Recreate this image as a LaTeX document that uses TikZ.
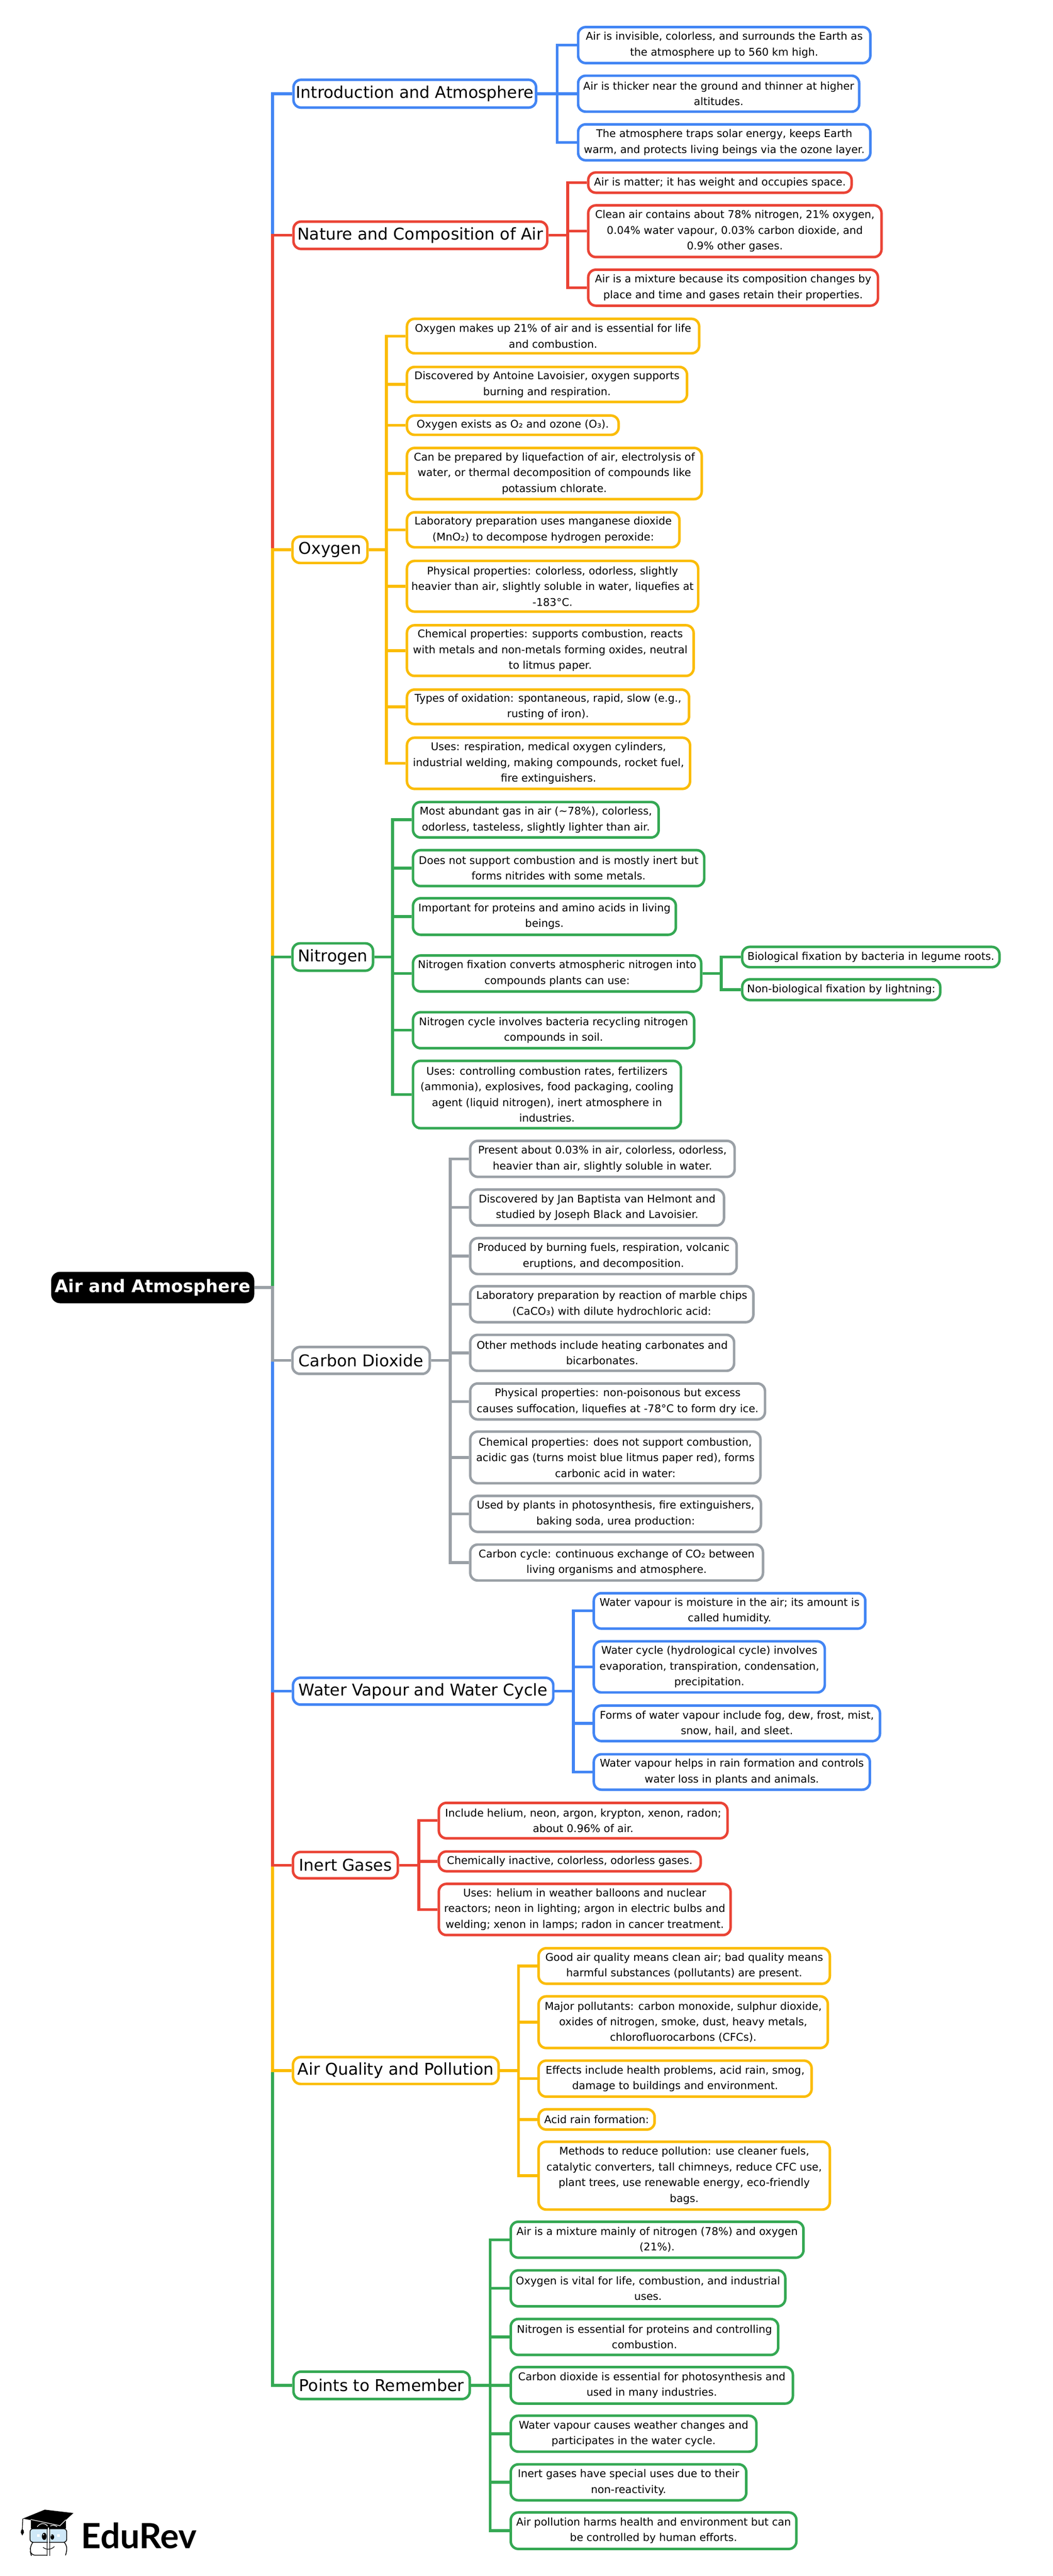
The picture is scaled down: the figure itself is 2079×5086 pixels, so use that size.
\documentclass[tikz,border=0pt]{standalone}
\usepackage{fontspec}
\setmainfont{DejaVu Sans}
\newfontfamily\logofont{Lato}
\definecolor{cblue}{HTML}{4285F4}
\definecolor{cred}{HTML}{EA4335}
\definecolor{cyellow}{HTML}{FBBC04}
\definecolor{cgreen}{HTML}{34A853}
\definecolor{cgray}{HTML}{9AA0A6}
\definecolor{glass}{HTML}{CFE8F8}
\newcommand{\leaffont}{\fontsize{20.9}{31}\selectfont}
\newcommand{\topicfont}{\fontsize{32.1}{38}\selectfont}
\newcommand{\rootfont}{\fontsize{34.3}{40}\selectfont\bfseries}
\tikzset{
  mapbox/.style={rounded corners=15pt,fill=white,align=center,inner sep=0pt,line width=5pt,text=black},
  leafbox/.style={mapbox,font=\leaffont},
  topicbox/.style={mapbox,font=\topicfont},
  rootbox/.style={mapbox,draw=black,fill=black,text=white,font=\rootfont},
  conn/.style={line width=5.5pt}
}
% name, style, colour, left, top, right, bottom, text
\newcommand{\mapnode}[8]{%
  \pgfmathsetmacro\cxx{(#4+#6)/2}\pgfmathsetmacro\cyy{(#5+#7)/2}%
  \pgfmathsetmacro\www{#6-#4-5}\pgfmathsetmacro\hhh{#7-#5-5}%
  \node[#2,draw=#3,minimum width=\www pt,minimum height=\hhh pt] (#1) at (\cxx,\cyy) {#8};}
\newcommand{\leaf}[7]{\mapnode{#1}{leafbox}{#2}{#3}{#4}{#5}{#6}{#7}}
\newcommand{\topic}[7]{\mapnode{#1}{topicbox}{#2}{#3}{#4}{#5}{#6}{#7}}
\newcommand{\link}[4]{\draw[conn,#1] (#2.east) -- ++(#3,0) |- (#4.west);}
\begin{document}
\begin{tikzpicture}[x=1pt,y=-1pt]
\useasboundingbox (0,0) rectangle (2079,5086);
\fill[white] (0,0) rectangle (2079,5086);
% root
\mapnode{root}{rootbox}{black}{101}{2511}{502}{2573}{Air and Atmosphere}
% topics
\topic{intro}{cblue}{577}{155}{1061}{215}{Introduction and Atmosphere}
\topic{nature}{cred}{577}{435}{1083}{494}{Nature and Composition of Air}
\topic{oxy}{cyellow}{575}{1057}{728}{1114}{Oxygen}
\topic{nit}{cgreen}{575}{1860}{739}{1919}{Nitrogen}
\topic{carb}{cgray}{575}{2657}{851}{2715}{Carbon Dioxide}
\topic{water}{cblue}{576}{3310}{1095}{3368}{Water Vapour and Water Cycle}
\topic{inert}{cred}{576}{3654}{788}{3711}{Inert Gases}
\topic{aq}{cyellow}{576}{4059}{987}{4117}{Air Quality and Pollution}
\topic{pts}{cgreen}{577}{4680}{930}{4739}{Points to Remember}
% intro
\leaf{i1}{cblue}{1139}{51}{1721}{127}{Air is invisible, colorless, and surrounds the Earth as\\the atmosphere up to 560 km high.}
\leaf{i2}{cblue}{1139}{147}{1699}{223}{Air is thicker near the ground and thinner at higher\\altitudes.}
\leaf{i3}{cblue}{1139}{243}{1721}{319}{The atmosphere traps solar energy, keeps Earth\\warm, and protects living beings via the ozone layer.}
% nature
\leaf{n1}{cred}{1159}{338}{1684}{383}{Air is matter; it has weight and occupies space.}
\leaf{n2}{cred}{1159}{403}{1743}{510}{Clean air contains about 78\% nitrogen, 21\% oxygen,\\0.04\% water vapour, 0.03\% carbon dioxide, and\\0.9\% other gases.}
\leaf{n3}{cred}{1159}{530}{1736}{606}{Air is a mixture because its composition changes by\\place and time and gases retain their properties.}
% oxygen
\leaf{o1}{cyellow}{801}{627}{1383}{700}{Oxygen makes up 21\% of air and is essential for life\\and combustion.}
\leaf{o2}{cyellow}{801}{722}{1359}{796}{Discovered by Antoine Lavoisier, oxygen supports\\burning and respiration.}
\leaf{o3}{cyellow}{801}{818}{1224}{861}{Oxygen exists as O₂ and ozone (O₃).}
\leaf{o4}{cyellow}{801}{882}{1388}{988}{Can be prepared by liquefaction of air, electrolysis of\\water, or thermal decomposition of compounds like\\potassium chlorate.}
\leaf{o5}{cyellow}{801}{1009}{1344}{1083}{Laboratory preparation uses manganese dioxide\\(MnO₂) to decompose hydrogen peroxide:}
\leaf{o6}{cyellow}{801}{1105}{1381}{1210}{Physical properties: colorless, odorless, slightly\\heavier than air, slightly soluble in water, liquefies at\\-183°C.}
\leaf{o7}{cyellow}{801}{1232}{1372}{1337}{Chemical properties: supports combustion, reacts\\with metals and non-metals forming oxides, neutral\\to litmus paper.}
\leaf{o8}{cyellow}{801}{1359}{1363}{1432}{Types of oxidation: spontaneous, rapid, slow (e.g.,\\rusting of iron).}
\leaf{o9}{cyellow}{801}{1454}{1365}{1560}{Uses: respiration, medical oxygen cylinders,\\industrial welding, making compounds, rocket fuel,\\fire extinguishers.}
% nitrogen
\leaf{t1}{cgreen}{813}{1581}{1303}{1656}{Most abundant gas in air ({\char"7E}78\%), colorless,\\odorless, tasteless, slightly lighter than air.}
\leaf{t2}{cgreen}{813}{1676}{1393}{1752}{Does not support combustion and is mostly inert but\\forms nitrides with some metals.}
\leaf{t3}{cgreen}{813}{1771}{1337}{1848}{Important for proteins and amino acids in living\\beings.}
\leaf{t4}{cgreen}{813}{1884}{1387}{1960}{Nitrogen fixation converts atmospheric nitrogen into\\compounds plants can use:}
\leaf{t5}{cgreen}{813}{1996}{1373}{2072}{Nitrogen cycle involves bacteria recycling nitrogen\\compounds in soil.}
\leaf{t6}{cgreen}{813}{2092}{1347}{2230}{Uses: controlling combustion rates, fertilizers\\(ammonia), explosives, food packaging, cooling\\agent (liquid nitrogen), inert atmosphere in\\industries.}
\leaf{ta}{cgreen}{1463}{1867}{1976}{1912}{Biological fixation by bacteria in legume roots.}
\leaf{tb}{cgreen}{1463}{1931}{1859}{1977}{Non-biological fixation by lightning:}
% carbon dioxide
\leaf{c1}{cgray}{926}{2250}{1453}{2326}{Present about 0.03\% in air, colorless, odorless,\\heavier than air, slightly soluble in water.}
\leaf{c2}{cgray}{926}{2346}{1432}{2422}{Discovered by Jan Baptista van Helmont and\\studied by Joseph Black and Lavoisier.}
\leaf{c3}{cgray}{926}{2442}{1457}{2518}{Produced by burning fuels, respiration, volcanic\\eruptions, and decomposition.}
\leaf{c4}{cgray}{926}{2537}{1490}{2613}{Laboratory preparation by reaction of marble chips\\(CaCO₃) with dilute hydrochloric acid:}
\leaf{c5}{cgray}{926}{2633}{1452}{2709}{Other methods include heating carbonates and\\bicarbonates.}
\leaf{c6}{cgray}{926}{2729}{1513}{2805}{Physical properties: non-poisonous but excess\\causes suffocation, liquefies at -78°C to form dry ice.}
\leaf{c7}{cgray}{926}{2824}{1504}{2931}{Chemical properties: does not support combustion,\\acidic gas (turns moist blue litmus paper red), forms\\carbonic acid in water:}
\leaf{c8}{cgray}{926}{2951}{1505}{3027}{Used by plants in photosynthesis, fire extinguishers,\\baking soda, urea production:}
\leaf{c9}{cgray}{926}{3047}{1509}{3123}{Carbon cycle: continuous exchange of CO₂ between\\living organisms and atmosphere.}
% water
\leaf{w1}{cblue}{1170}{3143}{1711}{3218}{Water vapour is moisture in the air; its amount is\\called humidity.}
\leaf{w2}{cblue}{1170}{3238}{1631}{3344}{Water cycle (hydrological cycle) involves\\evaporation, transpiration, condensation,\\precipitation.}
\leaf{w3}{cblue}{1170}{3365}{1740}{3440}{Forms of water vapour include fog, dew, frost, mist,\\snow, hail, and sleet.}
\leaf{w4}{cblue}{1170}{3461}{1720}{3536}{Water vapour helps in rain formation and controls\\water loss in plants and animals.}
% inert
\leaf{g1}{cred}{864}{3557}{1439}{3632}{Include helium, neon, argon, krypton, xenon, radon;\\about 0.96\% of air.}
\leaf{g2}{cred}{864}{3653}{1386}{3697}{Chemically inactive, colorless, odorless gases.}
\leaf{g3}{cred}{864}{3717}{1445}{3823}{Uses: helium in weather balloons and nuclear\\reactors; neon in lighting; argon in electric bulbs and\\welding; xenon in lamps; radon in cancer treatment.}
% air quality
\leaf{a1}{cyellow}{1061}{3844}{1641}{3919}{Good air quality means clean air; bad quality means\\harmful substances (pollutants) are present.}
\leaf{a2}{cyellow}{1061}{3939}{1637}{4046}{Major pollutants: carbon monoxide, sulphur dioxide,\\oxides of nitrogen, smoke, dust, heavy metals,\\chlorofluorocarbons (CFCs).}
\leaf{a3}{cyellow}{1061}{4066}{1605}{4142}{Effects include health problems, acid rain, smog,\\damage to buildings and environment.}
\leaf{a4}{cyellow}{1061}{4162}{1295}{4207}{Acid rain formation:}
\leaf{a5}{cyellow}{1061}{4226}{1641}{4365}{Methods to reduce pollution: use cleaner fuels,\\catalytic converters, tall chimneys, reduce CFC use,\\plant trees, use renewable energy, eco-friendly\\bags.}
% points
\leaf{p1}{cgreen}{1006}{4384}{1589}{4460}{Air is a mixture mainly of nitrogen (78\%) and oxygen\\(21\%).}
\leaf{p2}{cgreen}{1006}{4480}{1553}{4556}{Oxygen is vital for life, combustion, and industrial\\uses.}
\leaf{p3}{cgreen}{1006}{4576}{1539}{4652}{Nitrogen is essential for proteins and controlling\\combustion.}
\leaf{p4}{cgreen}{1006}{4671}{1568}{4748}{Carbon dioxide is essential for photosynthesis and\\used in many industries.}
\leaf{p5}{cgreen}{1006}{4767}{1496}{4843}{Water vapour causes weather changes and\\participates in the water cycle.}
\leaf{p6}{cgreen}{1006}{4863}{1476}{4939}{Inert gases have special uses due to their\\non-reactivity.}
\leaf{p7}{cgreen}{1006}{4958}{1575}{5035}{Air pollution harms health and environment but can\\be controlled by human efforts.}
% connectors from the root (order sets which colour lies on top)
\link{cblue}{root}{36}{intro}
\link{cred}{root}{36}{nature}
\link{cyellow}{root}{36}{oxy}
\link{cgreen}{root}{36}{nit}
\link{cgreen}{root}{36}{pts}
\link{cyellow}{root}{36}{aq}
\link{cred}{root}{36}{inert}
\link{cblue}{root}{36}{water}
\link{cgray}{root}{36}{carb}
% topic to leaf
\foreach \c in {i1,i2,i3}{\link{cblue}{intro}{39}{\c}}
\foreach \c in {n1,n2,n3}{\link{cred}{nature}{38}{\c}}
\foreach \c in {o1,o2,o3,o4,o5,o6,o7,o8,o9}{\link{cyellow}{oxy}{35}{\c}}
\foreach \c in {t1,t2,t3,t4,t5,t6}{\link{cgreen}{nit}{36}{\c}}
\foreach \c in {ta,tb}{\link{cgreen}{t4}{37}{\c}}
\foreach \c in {c1,c2,c3,c4,c5,c6,c7,c8,c9}{\link{cgray}{carb}{38}{\c}}
\foreach \c in {w1,w2,w3,w4}{\link{cblue}{water}{37}{\c}}
\foreach \c in {g1,g2,g3}{\link{cred}{inert}{39}{\c}}
\foreach \c in {a1,a2,a3,a4,a5}{\link{cyellow}{aq}{37}{\c}}
\foreach \c in {p1,p2,p3,p4,p5,p6,p7}{\link{cgreen}{pts}{38}{\c}}
% logo
\begin{scope}[shift={(20,4930)},x=0.3333pt,y=-0.3333pt]
\fill[black] (122,135) -- (330,135) -- (330,187) -- (122,187) -- cycle;
\fill[black] (75,128) -- (205,75) -- (375,95) -- (295,168) -- cycle;
\draw[white,line width=1.2pt] (122,133) -- (295,170) -- (330,135);
\draw[black,line width=1.3pt] (75,128) -- (72,190);
\fill[black] (72,188) -- (80,198) -- (82,210) -- (72,228) -- (63,210) -- (65,198) -- cycle;
\draw[white,line width=1.2pt] (160,176) .. controls (180,152) and (205,152) .. (222,172);
\draw[white,line width=1.2pt] (238,172) .. controls (250,165) and (265,165) .. (278,176);
\draw[black,line width=1.5pt,fill=glass,rounded corners=6pt] (118,188) rectangle (335,268);
\draw[black,line width=1.5pt,rounded corners=8pt] (218,345) -- (125,345) -- (120,325) -- (120,285) -- (135,268);
\draw[black,line width=1.5pt,rounded corners=6pt] (320,268) -- (335,285) -- (335,325) -- (328,345);
\draw[white,line width=2.2pt] (227,180) -- (227,350);
\draw[black,line width=0.8pt] (218,185) -- (218,350);
\draw[black,line width=0.8pt] (233,185) -- (233,350);
\fill[black] (202,233) ellipse [x radius=14,y radius=21];
\fill[black] (250,237) ellipse [x radius=11,y radius=16];
\fill[white] (198,223) circle [radius=4];
\fill[white] (246,229) circle [radius=3];
\fill[white] (160,222) rectangle (175,237);
\fill[white] (280,222) rectangle (295,237);
\draw[black,line width=1.2pt] (195,298) .. controls (215,315) and (245,312) .. (262,293);
\end{scope}
\node[anchor=base west,inner sep=0pt,font=\logofont\bfseries\fontsize{68.5}{68.5}\selectfont] (logo) at (160,5032) {EduRev};
\end{tikzpicture}
\end{document}
